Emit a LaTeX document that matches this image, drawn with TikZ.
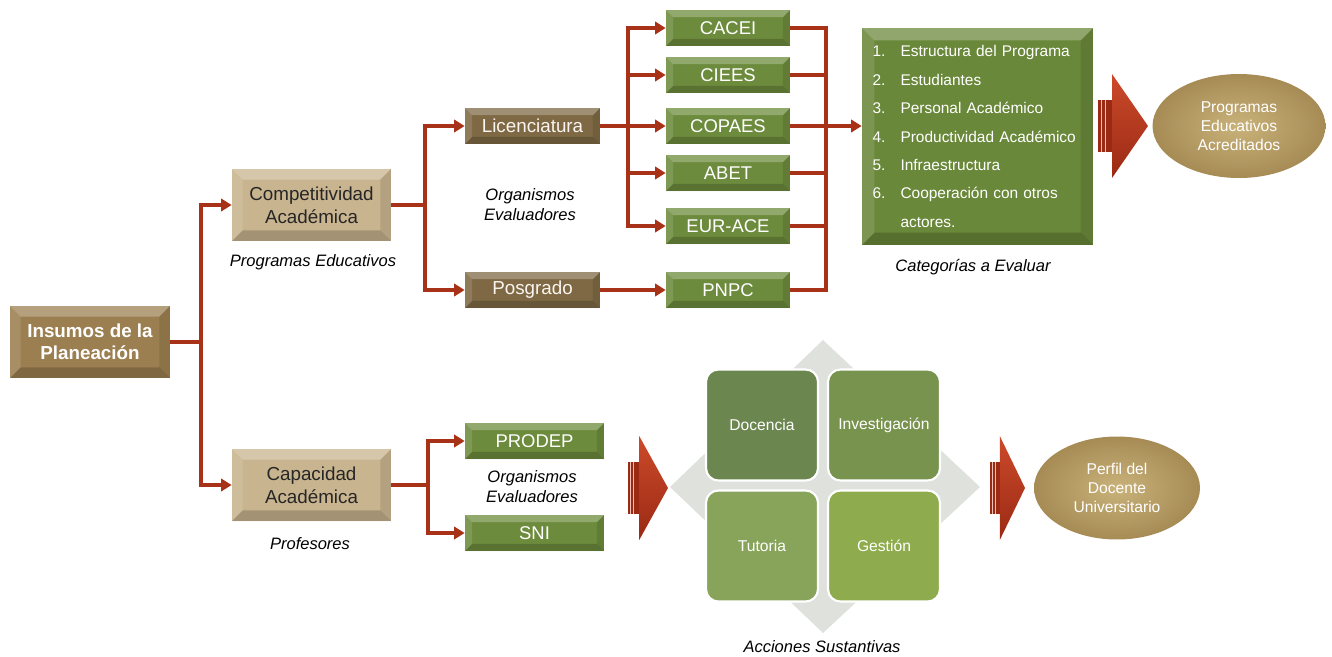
\documentclass[tikz,border=0pt]{standalone}
\usepackage{fontspec}
\setmainfont{Liberation Sans}
\usepackage{tikz}
\usetikzlibrary{arrows.meta,shapes.geometric}

\definecolor{linkred}{HTML}{A83218}
\definecolor{arrowtop}{HTML}{CC4A2A}
\definecolor{arrowbot}{HTML}{9A2A14}
\definecolor{tandark}{HTML}{9C7F50}
\definecolor{tanlight}{HTML}{C8B48E}
\definecolor{brownbox}{HTML}{7E6944}
\definecolor{greenbox}{HTML}{6D8B3C}
\definecolor{catgreen}{HTML}{6A883A}
\definecolor{quadA}{HTML}{6C8650}
\definecolor{quadB}{HTML}{78934E}
\definecolor{quadC}{HTML}{88A45B}
\definecolor{quadD}{HTML}{8EAC4E}
\definecolor{crossgray}{HTML}{DFE1DD}
\definecolor{goldA}{HTML}{C9B27A}
\definecolor{goldB}{HTML}{A68B55}

\tikzset{
  bevel/.style={path picture={
    \fill[white,opacity=.26] (path picture bounding box.north west) -- (path picture bounding box.north east)
      -- ([shift={(-#1,-#1)}]path picture bounding box.north east) -- ([shift={(#1,-#1)}]path picture bounding box.north west) -- cycle;
    \fill[white,opacity=.12] (path picture bounding box.north west) -- (path picture bounding box.south west)
      -- ([shift={(#1,#1)}]path picture bounding box.south west) -- ([shift={(#1,-#1)}]path picture bounding box.north west) -- cycle;
    \fill[black,opacity=.18] (path picture bounding box.south west) -- (path picture bounding box.south east)
      -- ([shift={(-#1,#1)}]path picture bounding box.south east) -- ([shift={(#1,#1)}]path picture bounding box.south west) -- cycle;
    \fill[black,opacity=.10] (path picture bounding box.north east) -- (path picture bounding box.south east)
      -- ([shift={(-#1,#1)}]path picture bounding box.south east) -- ([shift={(-#1,-#1)}]path picture bounding box.north east) -- cycle;
  }},
  bevel/.default=5pt,
  mainbox/.style={fill=tandark, bevel=6pt, minimum width=3.2cm, minimum height=1.44cm, inner sep=0pt,
    align=center, text=white, font=\fontsize{10.7}{12.5}\selectfont\bfseries},
  areabox/.style={fill=tanlight, bevel=6pt, minimum width=3.18cm, minimum height=1.44cm, inner sep=0pt,
    align=center, text=black!85, font=\fontsize{10.7}{13}\selectfont},
  levelbox/.style={fill=brownbox, bevel=4pt, minimum width=2.7cm, minimum height=0.72cm, inner sep=0pt,
    text=white!92!brown, font=\fontsize{10.7}{12}\selectfont},
  orgbox/.style={fill=greenbox, bevel=4pt, minimum width=2.48cm, minimum height=0.72cm, inner sep=0pt,
    text=white, font=\fontsize{10.5}{12}\selectfont},
  quad/.style={draw=white, line width=1.2pt, rounded corners=7pt, minimum width=2.24cm, minimum height=2.22cm,
    inner sep=0pt, text=white, font=\fontsize{8.9}{11}\selectfont},
  goal/.style={ellipse, shading=radial, inner color=goldA, outer color=goldB, inner sep=0pt,
    align=center, text=white, font=\fontsize{8.9}{10.9}\selectfont},
  caption/.style={align=center, font=\fontsize{9.4}{11.3}\selectfont\itshape},
  link/.style={draw=linkred, line width=2.2pt},
  bigarrow/.pic={
    \fill[arrowbot] (0,-26) rectangle (16,26);
    \fill[white!65!arrowtop] (2.5,-26) rectangle (4,26);
    \fill[white!65!arrowtop] (6.5,-26) rectangle (7.5,26);
    \shade[top color=arrowtop, bottom color=arrowbot] (14,-52) -- (50,0) -- (14,52) -- cycle;
  },
}

\begin{document}
\begin{tikzpicture}[x=0.02cm, y=-0.02cm, >={Triangle[length=6pt,width=7pt]}]
    \useasboundingbox (0,0) rectangle (1332,656);

    % left column
    \node[mainbox] (insumos) at (90,342) {Insumos de la\\Planeación};
    \node[areabox] (comp) at (311.5,205) {Competitividad\\Académica};
    \node[areabox] (capa) at (311.5,485) {Capacidad\\Académica};
    \node[caption] (progcap) at (313,262) {Programas Educativos};
    \node[caption] (profcap) at (310,544) {Profesores};

    % programas educativos
    \node[levelbox] (lic) at (532.5,126) {Licenciatura};
    \node[levelbox] (pos) at (532.5,290) {Posgrado};
    \node[caption] (orgA) at (530,205) {Organismos\\Evaluadores};
    \node[orgbox] (cacei) at (728,28) {CACEI};
    \node[orgbox] (ciees) at (728,75) {CIEES};
    \node[orgbox] (copaes) at (728,126) {COPAES};
    \node[orgbox] (abet) at (728,173) {ABET};
    \node[orgbox] (eurace) at (728,226) {EUR-ACE};
    \node[orgbox] (pnpc) at (728,290) {PNPC};

    \node[fill=catgreen, bevel=7pt, minimum width=4.62cm, minimum height=4.34cm, inner sep=0pt,
          text width=4.2cm, align=left, text=white, font=\fontsize{8.8}{16.2}\selectfont] (cats) at (977.5,136.5)
      {\makebox[0.56cm][l]{1.}Estructura del Programa\\
       \makebox[0.56cm][l]{2.}Estudiantes\\
       \makebox[0.56cm][l]{3.}Personal Académico\\
       \makebox[0.56cm][l]{4.}Productividad Académico\\
       \makebox[0.56cm][l]{5.}Infraestructura\\
       \makebox[0.56cm][l]{6.}Cooperación con otros\\
       \makebox[0.56cm][l]{}actores.};
    \node[caption] (catcap) at (973,267) {Categorías a Evaluar};
    \pic at (1098,126) {bigarrow};
    \node[goal, minimum width=3.46cm, minimum height=2.08cm] (acred) at (1239,126) {Programas\\Educativos\\Acreditados};

    % profesores
    \node[orgbox, minimum width=2.78cm] (prodep) at (534.5,441) {PRODEP};
    \node[orgbox, minimum width=2.78cm] (sni) at (534.5,533) {SNI};
    \node[caption] (orgB) at (532,487) {Organismos\\Evaluadores};
    \pic[xscale=.8] at (628,488) {bigarrow};

    \fill[crossgray] (823,340) -- (980,487) -- (823,633) -- (670,487) -- cycle;
    \node[quad, fill=quadA] (doc) at (762,425) {Docencia};
    \node[quad, fill=quadB] (inv) at (884,425) {Investigación};
    \node[quad, fill=quadC] (tut) at (762,546) {Tutoria};
    \node[quad, fill=quadD] (ges) at (884,546) {Gestión};
    \node[caption] (acccap) at (822,647) {Acciones Sustantivas};
    \pic[xscale=.7] at (990,488) {bigarrow};
    \node[goal, minimum width=3.32cm, minimum height=2.06cm] (perfil) at (1117,488) {Perfil del\\Docente\\Universitario};

    % connectors
    \coordinate (j1) at (201,342);
    \draw[link] (insumos.east) -- (j1);
    \draw[link,->] (j1) |- (comp.west);
    \draw[link,->] (j1) |- (capa.west);

    \coordinate (j2) at (425,205);
    \draw[link] (comp.east) -- (j2);
    \draw[link,->] (j2) |- (lic.west);
    \draw[link,->] (j2) |- (pos.west);

    \coordinate (j3) at (628,126);
    \draw[link] (lic.east) -- (j3);
    \foreach \org in {cacei,ciees,copaes,abet,eurace}
        \draw[link,->] (j3) |- (\org.west);
    \draw[link,->] (pos.east) -- (pnpc.west);

    \coordinate (j4) at (826,126);
    \foreach \org in {cacei,ciees,abet,eurace,pnpc}
        \draw[link] (\org.east) -| (j4);
    \draw[link,->] (copaes.east) -- (copaes.east -| cats.west);

    \coordinate (j5) at (428,485);
    \draw[link] (capa.east) -- (j5);
    \draw[link,->] (j5) |- (prodep.west);
    \draw[link,->] (j5) |- (sni.west);
\end{tikzpicture}
\end{document}
